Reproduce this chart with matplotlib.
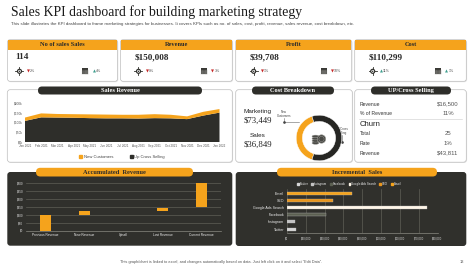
import matplotlib
matplotlib.use("Agg")
import matplotlib.pyplot as plt
from matplotlib.patches import FancyBboxPatch, Rectangle, Circle, Ellipse, Arc, Patch
import numpy as np

# ---------------- data ----------------
title = "Sales KPI dashboard for building marketing strategy"
subtitle = ("This slide illustrates the KPI dashboard to frame marketing strategies for businesses. "
            "It covers KPIs such as no. of sales, cost, profit, revenue, sales revenue, cost breakdown, etc.")

kpi_names = ["No of sales Sales", "Revenue", "Profit", "Cost"]
kpi_values = ["114", "$150,008", "$39,708", "$110,299"]
kpi_target_pct = [2, 0, 1, 11]
kpi_target_up = [False, False, False, True]
kpi_month_pct = [4, 3, 10, 1]
kpi_month_up = [True, False, False, True]

months = ["Jan 2021", "Feb 2021", "Mar 2021", "Apr 2021", "May 2021", "Jun 2021", "Jul 2021",
          "Aug 2021", "Sep 2021", "Oct 2021", "Nov 2021", "Dec 2021", "Jan 2022"]
up_cross_selling = [108, 126, 125, 124, 122, 121, 121, 120, 122, 121, 117, 135, 150]
new_customers = [17, 20, 18, 18, 19, 19, 18, 19, 20, 18, 14, 19, 18]
rev_ticks = [0, 50, 100, 150, 200]

cost_labels = ["Marketing", "Sales"]
cost_values = ["$73,449", "$36,849"]
donut_labels = ["New Customers", "UP/Cross Selling"]
donut_shares = [40, 60]

upcross_rows = [("Revenue", "$16,500"), ("% of Revenue", "11%")]
churn_rows = [("Total", "25"), ("Rate", "1%"), ("Revenue", "$43,811")]

wf_categories = ["Previous Revenue", "New Revenue", "Upsell", "Lost Revenue", "Current Revenue"]
wf_start = [0, 100, 122, 124, 145]
wf_end = [100, 120, 125, 143, 300]
wf_ticks = [0, 50, 100, 150, 200, 250, 300]

inc_channels = ["Twitter", "Instagram", "Facebook", "Google Ads Search", "SEO", "Email"]
inc_values = [4800, 4300, 20700, 74500, 24500, 34600]
inc_ticks = [0, 10000, 20000, 30000, 40000, 50000, 60000, 70000, 80000]

footer = "This graph/chart is linked to excel, and changes automatically based on data. Just left click on it and select \u201cEdit Data\u201d."
page_no = "13"

# ---------------- style ----------------
ORANGE = "#F5A31C"
DARK = "#2E2E2A"
PANEL_DARK = "#30302C"
GRAY_EDGE = "#BDBDBD"
SERIF = "Liberation Serif"
SANS = "Liberation Sans"
W, H = 474, 266

fig = plt.figure(figsize=(W / 100, H / 100), dpi=100)
fig.patch.set_facecolor("white")
bg = fig.add_axes([0, 0, 1, 1])
bg.set_xlim(0, W)
bg.set_ylim(H, 0)
bg.axis("off")


def rect(x0, y0, x1, y1):
    return [x0 / W, 1 - y1 / H, (x1 - x0) / W, (y1 - y0) / H]


def rbox(x0, y0, x1, y1, fc, ec="none", lw=0.6, r=3, z=1):
    bg.add_patch(FancyBboxPatch((x0, y0), x1 - x0, y1 - y0,
                                boxstyle=f"round,pad=0,rounding_size={r}",
                                fc=fc, ec=ec, lw=lw, zorder=z))


def pill(x0, y0, x1, y1, fc, text, tc):
    rbox(x0, y0, x1, y1, fc, r=(y1 - y0) / 2, z=3)
    bg.text((x0 + x1) / 2, (y0 + y1) / 2 + 0.3, text, ha="center", va="center",
            fontsize=4.6, fontweight="bold", family=SERIF, color=tc, zorder=4)


# title
bg.text(11, 12.5, title, fontsize=9.9, family=SERIF, color="#1A1A1A", va="center", ha="left")
bg.text(11, 24, subtitle, fontsize=3.15, family=SANS, color="#444444", va="center", ha="left")


def target_icon(x, y):
    bg.add_patch(Circle((x, y), 2.6, fc=DARK, ec="none", zorder=5))
    bg.add_patch(Circle((x, y), 1.4, fc="white", ec="none", zorder=6))
    bg.add_patch(Circle((x, y), 0.7, fc=DARK, ec="none", zorder=7))
    bg.plot([x - 4, x + 4], [y, y], color=DARK, lw=0.6, zorder=5)
    bg.plot([x, x], [y - 4, y + 4], color=DARK, lw=0.6, zorder=5)


def calendar_icon(x, y):
    bg.add_patch(Rectangle((x - 3, y - 3), 6, 6, fc="#3A3A36", ec="none", zorder=5))
    for gx in np.arange(x - 2, x + 3, 1.2):
        bg.plot([gx, gx], [y - 1.5, y + 3], color="#9A9A94", lw=0.25, zorder=6)
    for gy in np.arange(y - 0.8, y + 3, 1.2):
        bg.plot([x - 3, x + 3], [gy, gy], color="#9A9A94", lw=0.25, zorder=6)


def change_text(x, y, pct, up):
    sym = "\u25B2" if up else "\u25BC"
    col = "#3E9E8E" if up else "#C62828"
    bg.text(x, y, sym, fontsize=2.8, color=col, va="center", ha="left", family="DejaVu Sans", zorder=6)
    bg.text(x + 3.2, y, f"{pct}%", fontsize=2.6, color="#555555", va="center", ha="left",
            family=SANS, zorder=6)


# KPI cards
cards = [(7.5, 117.5), (120.5, 232.3), (235.7, 351.7), (354.7, 466.3)]
for i, (x0, x1) in enumerate(cards):
    rbox(x0 + 0.8, 40.5, x1 + 0.8, 82.2, "#E6E6E6", r=2.5, z=1)
    rbox(x0, 39.7, x1, 81.3, "white", GRAY_EDGE, 0.5, r=2.5, z=2)
    bg.add_patch(Rectangle((x0 + 0.3, 39.9), x1 - x0 - 0.6, 9.8, fc=ORANGE, ec="none", zorder=3))
    bg.text((x0 + x1) / 2, 44.9, kpi_names[i], ha="center", va="center", fontsize=4.6,
            fontweight="bold", family=SERIF, color="#2A2A2A", zorder=4)
    bg.text(x0 + 7.5 if i == 0 else x0 + 14, 57, kpi_values[i], ha="left", va="center",
            fontsize=6.6, fontweight="bold", family=SERIF, color="#2A2A2A", zorder=4)
    tx = x0 + 12 if i == 0 else x0 + 18
    cx = x1 - 32 if i == 0 else x1 - 28
    target_icon(tx, 71.3)
    change_text(tx + 7, 71.3, kpi_target_pct[i], kpi_target_up[i])
    calendar_icon(cx, 71.3)
    change_text(cx + 7, 71.3, kpi_month_pct[i], kpi_month_up[i])

# middle white panels
for (x0, x1) in [(7.3, 232.3), (235.7, 352.3), (354.7, 466.3)]:
    rbox(x0 + 0.8, 90.5, x1 + 0.8, 163, "#E6E6E6", r=3, z=1)
    rbox(x0, 89.7, x1, 162.2, "white", GRAY_EDGE, 0.5, r=3, z=2)
pill(38, 86.5, 202, 94.5, DARK, "Sales Revenue", "white")
pill(252, 86.5, 334, 94.5, DARK, "Cost Breakdown", "white")
pill(371, 86.5, 451, 94.5, DARK, "UP/Cross Selling", "white")

# Sales revenue chart
ax1 = fig.add_axes(rect(25, 102.7, 219.5, 142.3))
ax1.set_facecolor("none")
x = np.arange(len(months))
ax1.stackplot(x, up_cross_selling, new_customers, colors=[DARK, ORANGE],
              labels=["Up Cross Selling", "New Customers"])
ax1.set_xlim(0, len(months) - 1)
ax1.set_ylim(0, 200)
ax1.set_yticks(rev_ticks)
ax1.set_yticklabels([f"${v}k" for v in rev_ticks], fontsize=2.3, color="#555555", family=SANS)
ax1.set_xticks(x)
ax1.set_xticklabels(months, fontsize=2.2, color="#555555", family=SANS)
ax1.tick_params(length=0, pad=1.5)
for s in ax1.spines.values():
    s.set_visible(False)
h = [Patch(color=ORANGE), Patch(color=DARK)]
ax1.legend(h, ["New Customers", "Up Cross Selling"], loc="center", ncol=2,
           bbox_to_anchor=(122 / W, 1 - 157 / H), bbox_transform=fig.transFigure,
           frameon=False, prop={"family": SANS, "size": 3.0}, handlelength=0.7,
           handleheight=0.7, columnspacing=4, handletextpad=0.4, labelcolor="#444444")

# Cost breakdown
bg.text(258, 112, cost_labels[0], ha="center", va="center", fontsize=4.6, family=SANS, color="#222222", zorder=4)
bg.text(258, 121, cost_values[0], ha="center", va="center", fontsize=6.3, family=SERIF, color="#222222", zorder=4)
bg.text(258, 135.5, cost_labels[1], ha="center", va="center", fontsize=4.6, family=SANS, color="#222222", zorder=4)
bg.text(258, 144.6, cost_values[1], ha="center", va="center", fontsize=6.3, family=SERIF, color="#222222", zorder=4)

axd = fig.add_axes(rect(319 - 23, 138 - 23, 319 + 23, 138 + 23))
axd.pie(donut_shares, colors=[ORANGE, "#262623"], startangle=108, counterclock=True,
        wedgeprops=dict(width=0.27, edgecolor="white", linewidth=0.3))
axd.set_aspect("equal")
axd.set_xlim(-1.01, 1.01)
axd.set_ylim(-1.01, 1.01)
# coin icon
for k in range(4):
    bg.add_patch(Ellipse((315.5, 143 - k * 2.2), 7, 2.6, fc="#4A4A46", ec="#9A9A94", lw=0.3, zorder=6))
bg.add_patch(Circle((321.5, 139), 4.2, fc="#4A4A46", ec="#9A9A94", lw=0.4, zorder=6))
bg.add_patch(Circle((321.5, 139), 2.6, fc="none", ec="#9A9A94", lw=0.3, zorder=7))
bg.text(284, 114, donut_labels[0].replace(" ", "\n"), ha="center", va="center", fontsize=2.2,
        family=SANS, color="#444444", linespacing=1.0, zorder=5)
bg.plot([284, 284, 299], [118, 121.5, 121.5], color="#666666", lw=0.4, zorder=5)
bg.plot([284], [121.5], marker="o", ms=0.9, color="#444444", zorder=5)
bg.text(342, 131, donut_labels[1].replace("/Cross ", "/Cross\n"), ha="center", va="center",
        fontsize=2.2, family=SANS, color="#444444", linespacing=1.0, zorder=5)
bg.plot([342, 342, 336], [135, 141.5, 141.5], color="#666666", lw=0.4, zorder=5)
bg.plot([342], [141.5], marker="o", ms=0.9, color="#444444", zorder=5)

# UP/Cross selling
ys = [104, 113.7]
for (lab, val), yy in zip(upcross_rows, ys):
    bg.text(360, yy, lab, ha="left", va="center", fontsize=3.6, family=SANS, color="#333333", zorder=4)
    bg.text(448, yy, val, ha="center", va="center", fontsize=4.3, family=SANS, color="#555555", zorder=4)
bg.plot([359, 462], [119, 119], color="#CCCCCC", lw=0.4, zorder=4)
bg.text(359.5, 124.8, "Churn", ha="left", va="center", fontsize=5.6, family=SANS, color="#222222", zorder=4)
for (lab, val), yy in zip(churn_rows, [133.2, 143.2, 153.2]):
    bg.text(360, yy, lab, ha="left", va="center", fontsize=3.6, family=SANS, color="#333333", zorder=4)
    bg.text(448, yy, val, ha="center", va="center", fontsize=4.3, family=SANS, color="#555555", zorder=4)

# dark panels
rbox(7.3, 172, 232.3, 245.7, PANEL_DARK, r=3, z=1)
rbox(235.7, 172, 466.3, 246, PANEL_DARK, r=3, z=1)
pill(36, 167.8, 193, 176.5, ORANGE, "Accumulated  Revenue", "#2A2A2A")
pill(277, 167.8, 437, 176.5, ORANGE, "Incremental  Sales", "#2A2A2A")

# waterfall
ax2 = fig.add_axes(rect(26, 182.7, 221, 230.5))
ax2.set_facecolor("none")
xs = np.arange(len(wf_categories))
heights = [e - s for s, e in zip(wf_start, wf_end)]
wf_colors = [ORANGE, ORANGE, "#9C8650", ORANGE, ORANGE]
ax2.bar(xs, heights, bottom=wf_start, width=0.29, color=wf_colors, zorder=3)
ax2.set_xlim(-0.5, len(wf_categories) - 0.5)
ax2.set_ylim(0, 300)
ax2.set_yticks(wf_ticks)
ax2.set_yticklabels([f"${v}" for v in wf_ticks], fontsize=2.2, color="#DDDDDD", family=SANS)
ax2.set_xticks(xs)
ax2.set_xticklabels(wf_categories, fontsize=2.3, color="#EEEEEE", family=SANS)
ax2.tick_params(length=0, pad=2)
ax2.grid(axis="y", color="#5E5E57", lw=0.5, zorder=0)
for s in ax2.spines.values():
    s.set_visible(False)
ax2.spines["bottom"].set_visible(True)
ax2.spines["bottom"].set_color("#8A8A82")
ax2.spines["bottom"].set_linewidth(0.5)

# incremental sales
ax3 = fig.add_axes(rect(287, 189, 437.5, 233.3))
ax3.set_facecolor("none")
inc_colors = ["#D6D6D6", "#C4C4C4", "#5C6052", "#FFF6E8", "#E8951C", ORANGE]
ys3 = np.arange(len(inc_channels))
ax3.barh(ys3, inc_values, height=0.42, color=inc_colors, edgecolor="#BBBBBB", linewidth=0.25, zorder=3)
ax3.set_xlim(0, 80000)
ax3.set_ylim(-0.6, len(inc_channels) - 0.4)
ax3.set_xticks(inc_ticks)
ax3.set_xticklabels([f"${v:,}" for v in inc_ticks], fontsize=2.0, color="#DDDDDD", family=SANS)
ax3.set_yticks(ys3)
ax3.set_yticklabels(inc_channels, fontsize=2.6, color="#EEEEEE", family=SANS)
ax3.tick_params(length=0, pad=2)
ax3.grid(axis="x", color="#5E5E57", lw=0.5, zorder=0)
for s in ax3.spines.values():
    s.set_visible(False)
ax3.spines["bottom"].set_visible(True)
ax3.spines["bottom"].set_color("#8A8A82")
ax3.spines["bottom"].set_linewidth(0.5)
lh = [Patch(color=c) for c in inc_colors]
ax3.legend(lh, inc_channels, loc="center", ncol=6, bbox_to_anchor=(349 / W, 1 - 184 / H),
           bbox_transform=fig.transFigure, frameon=False, prop={"family": SANS, "size": 2.1},
           handlelength=0.6, handleheight=0.6, columnspacing=1.0, handletextpad=0.3,
           labelcolor="#EEEEEE")

# footer
bg.text(120, 262, footer, ha="left", va="center", fontsize=2.8, family=SANS, color="#555555")
bg.text(462, 262, page_no, ha="center", va="center", fontsize=2.8, family=SANS, color="#555555")
bg.add_patch(Arc((4, 267), 36, 36, theta1=0, theta2=180, color=ORANGE, lw=3.2, zorder=2))

fig.savefig("out.png", dpi=100, facecolor="white")
